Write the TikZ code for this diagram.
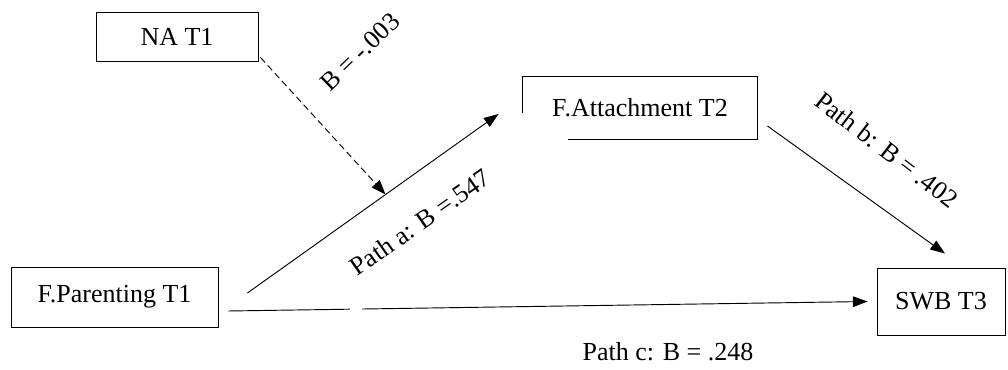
\documentclass[tikz,border=0pt]{standalone}
\usepackage{fontspec}
\setmainfont{Liberation Serif}
\usetikzlibrary{arrows.meta,calc,positioning}

\begin{document}
\begin{tikzpicture}[x=0.75pt,y=-0.75pt,>={Triangle[length=11pt,width=8pt]},
    box/.style={draw,line width=0.7pt,inner sep=0pt,font=\fontsize{19.5}{23}\selectfont},
    lab/.style={inner sep=1pt,font=\fontsize{19.5}{23}\selectfont},
    link/.style={->,line width=0.7pt}]
      \useasboundingbox (0,0) rectangle (1008,370);
      \node[box,minimum width=121.5pt,minimum height=36.75pt] (na) at (177,36.5) {NA T1};
      \node[box,minimum width=155.25pt,minimum height=45pt] (par) at (114.5,297) {F.Parenting T1};
      \node[box,draw=none,minimum width=175.5pt,minimum height=46.5pt] (att) at (640,108) {F.Attachment T2};
      \node[box,minimum width=96pt,minimum height=50.25pt] (swb) at (941,301.5) {SWB T3};
      \draw[line width=0.7pt] ($(att.west)+(0,5)$) |- (att.north east) |- ($(att.south west)+(45,0)$);
      \coordinate (a0) at ($(par.east)+(29,-4)$);
      \coordinate (a1) at ($(att.west)+(-24,6)$);
      \coordinate (c0) at ($(par.east)+(10,14)$);
      \coordinate (c1) at ($(swb.west)+(-9,0)$);
      \draw[link] (a0)--(a1);
      \draw[link,dash pattern=on 5pt off 3pt] ($(na.south east)+(2,-4)$)--($(a0)!0.55!(a1)$);
      \draw[link] ($(att.east)+(10,18)$)--($(swb.north)+(4,-14)$);
      \draw[line width=0.7pt] (c0)--($(c0)!0.19!(c1)$);
      \draw[link] ($(c0)!0.209!(c1)$)--(c1);
      \node[lab,rotate=44] at (360,52) {B = -.003};
      \node[lab,rotate=35] at (420,222) {Path a: B =.547};
      \node[lab,rotate=-37.5] at (887,150) {Path b: B = .402};
      \node[lab] at (668,352) {Path c: B = .248};
    \end{tikzpicture}
\end{document}
